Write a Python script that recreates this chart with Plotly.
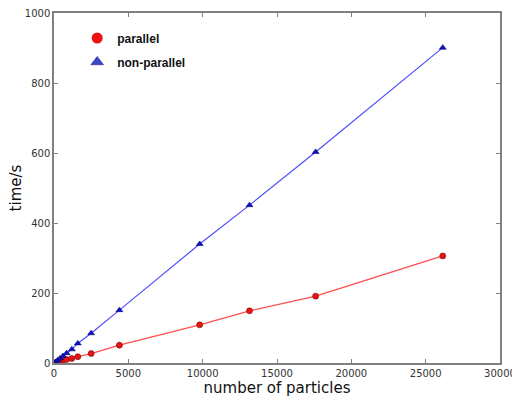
import plotly.graph_objects as go

particles = [100, 250, 400, 600, 850, 1200, 1600, 2500, 4400, 9800, 13150, 17600, 26150]
time_parallel = [1, 3, 5, 8, 10, 13, 18, 27, 51, 109, 149, 191, 306]
time_nonparallel = [3, 8, 13, 20, 28, 39, 56, 85, 151, 340, 451, 603, 901]

x_ticks = [0, 5000, 10000, 15000, 20000, 25000, 30000]
y_ticks = [0, 200, 400, 600, 800, 1000]

fig = go.Figure()
fig.add_trace(go.Scatter(x=particles, y=time_parallel, mode="lines+markers",
                         line=dict(color="#ff4d4d", width=1.2),
                         marker=dict(symbol="circle", size=6, color="#ee1111",
                                     line=dict(color="#661111", width=0.6)),
                         showlegend=False))
fig.add_trace(go.Scatter(x=particles, y=time_nonparallel, mode="lines+markers",
                         line=dict(color="#4d4dff", width=1.2),
                         marker=dict(symbol="triangle-up", size=6, color="#1111cc",
                                     line=dict(color="#000066", width=0.6)),
                         showlegend=False))
# legend entries
fig.add_trace(go.Scatter(x=[None], y=[None], mode="markers", name="<b>parallel</b>",
                         legendgroup="a",
                         marker=dict(symbol="circle", size=11, color="#ee1111",
                                     line=dict(color="#ee1111", width=0))))
fig.add_trace(go.Scatter(x=[None], y=[None], mode="markers", name="<b>non-parallel</b>",
                         legendgroup="b",
                         marker=dict(symbol="triangle-up", size=11, color="#3d46c4",
                                     line=dict(color="#222288", width=0.6))))

axis_common = dict(showgrid=False, zeroline=False, showline=True, linecolor="#808080",
                   linewidth=1.5, mirror="ticks", ticks="inside", ticklen=4, automargin=False,
                   ticklabeloverflow="allow",
                   tickcolor="#808080", tickfont=dict(family="DejaVu Sans", size=10, color="#333333"))

fig.update_xaxes(range=[0, 30000], tickvals=x_ticks, ticktext=[str(v) for v in x_ticks],
                 title=dict(text="number of particles", font=dict(family="DejaVu Sans", size=15, color="#111111"),
                            standoff=0),
                 **axis_common)
fig.update_yaxes(range=[0, 1000], tickvals=y_ticks, ticktext=[str(v) for v in y_ticks],
                 title=dict(text="time/s", font=dict(family="DejaVu Sans", size=15, color="#111111"),
                            standoff=0),
                 **axis_common)

fig.update_layout(
    width=512, height=397,
    margin=dict(l=54, r=12, t=13, b=34),
    plot_bgcolor="white", paper_bgcolor="white",
    legend=dict(x=0.052, y=0.97, xanchor="left", yanchor="top", bgcolor="rgba(0,0,0,0)",
                font=dict(family="Liberation Sans", size=12, color="#111111"),
                tracegroupgap=5, itemsizing="trace"),
)

fig.write_html("out.html", config={"displayModeBar": False},
               post_script="document.body.style.margin='0';document.body.style.padding='0';")
